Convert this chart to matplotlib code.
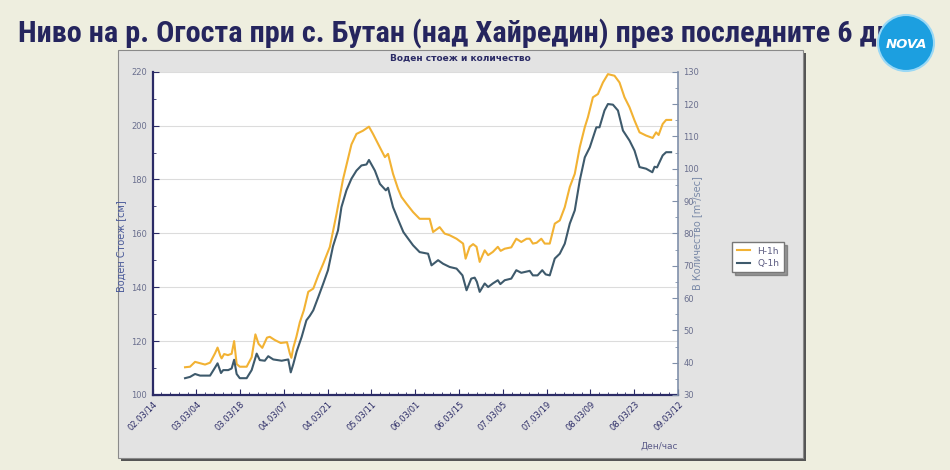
import numpy as np
import matplotlib
matplotlib.use("Agg")
import matplotlib.pyplot as plt
from matplotlib.patches import Rectangle, Ellipse
from matplotlib.ticker import MultipleLocator

# ---------------- data ----------------
title_text = "Ниво на р. Огоста при с. Бутан (над Хайредин) през последните 6 дни"
panel_title = "Воден стоеж и количество"
left_label = "Воден Стоеж [см]"
right_label = "В Количество [m³/sec]"
x_label = "Ден/час"
series_names = ["H-1h", "Q-1h"]

tick_labels = ["02.03/14", "03.03/04", "03.03/18", "04.03/07", "04.03/21",
               "05.03/11", "06.03/01", "06.03/15", "07.03/05", "07.03/19",
               "08.03/09", "08.03/23", "09.03/12"]

# hours since 02.03/14
h_hours = [10.4, 12.0, 13.6, 15.2, 16.8, 18.4, 20.0, 20.8, 21.7, 22.1, 22.9, 24.1,
           25.3, 26.1, 26.9, 27.9, 30.1, 31.7, 32.9, 33.9, 35.1, 36.6, 37.5, 39.1,
           41.0, 43.0, 43.9, 44.4, 45.0, 46.0, 47.1, 48.4, 49.8, 51.4, 53.0, 54.6,
           56.7, 58.8, 60.9, 63.6, 65.2, 67.3, 69.2, 70.5, 72.7, 74.3, 75.3, 76.9,
           78.5, 79.6, 81.2, 83.3, 85.4, 88.6, 89.7, 91.8, 93.4, 95.0, 97.2, 99.3,
           100.1, 101.4, 102.5, 103.6, 104.6, 106.2, 107.3, 108.8, 110.4, 111.3,
           112.6, 114.7, 116.3, 117.9, 119.6, 120.6, 121.6, 122.8, 124.3, 125.4,
           127.0, 128.6, 130.2, 131.8, 133.4, 135.0, 136.6, 138.2, 139.2, 140.8,
           142.4, 144.0, 145.6, 147.7, 149.3, 150.9, 152.5, 154.1, 155.7, 157.8,
           159.9, 161.0, 161.8, 163.1, 164.2, 165.8]
h_level = [110.3, 110.5, 112.3, 111.8, 111.3, 112.0, 115.5, 117.6, 114.5, 113.6, 115.2, 114.8,
           115.3, 120.0, 111.5, 110.5, 110.5, 114.0, 122.5, 119.0, 117.5, 121.3, 121.6, 120.4,
           119.3, 119.6, 115.4, 113.8, 117.5, 121.6, 127.0, 131.5, 138.3, 139.5, 144.4, 148.8,
           155.0, 167.0, 180.0, 193.0, 196.9, 198.1, 199.6, 196.9, 191.9, 188.3, 189.5, 182.1,
           176.5, 173.5, 171.0, 167.9, 165.4, 165.4, 160.5, 162.3, 159.9, 159.3, 158.0, 156.2,
           150.6, 155.0, 156.0, 155.0, 149.4, 153.7, 151.9, 153.1, 155.0, 153.5,
           154.3, 154.8, 158.0, 156.8, 158.0, 158.0, 156.2, 156.5, 158.0, 156.2,
           156.2, 163.6, 164.8, 169.7, 177.2, 182.1, 192.0, 199.4, 203.1, 210.5,
           211.7, 216.0, 219.1, 218.5, 216.0, 210.5, 206.8, 201.9, 197.5, 196.3,
           195.4, 197.5, 196.5, 200.6, 202.1, 202.1]

q_hours = [10.4, 12.0, 13.6, 15.2, 18.4, 20.0, 20.8, 21.9, 22.6, 24.2, 25.3, 26.1,
           26.9, 27.9, 30.1, 31.7, 33.3, 34.3, 35.9, 37.0, 38.6, 41.3, 43.4, 44.2,
           45.0, 46.1, 47.7, 49.2, 50.3, 51.4, 53.0, 54.6, 56.1, 57.7, 59.3, 60.4,
           62.0, 63.6, 65.2, 66.8, 68.4, 69.2, 71.1, 72.7, 74.6, 75.3, 76.9, 78.5,
           80.2, 81.7, 83.3, 85.4, 88.1, 89.2, 91.3, 92.9, 95.0, 97.2, 99.1, 100.4,
           101.9, 103.0, 103.7, 104.6, 106.2, 107.3, 108.8, 110.4, 111.2, 112.6,
           114.7, 116.3, 117.9, 120.6, 121.6, 123.1, 124.6, 125.7, 127.0, 128.6,
           130.2, 131.8, 133.4, 135.0, 136.6, 138.2, 139.8, 141.9, 142.9, 144.5,
           145.6, 147.2, 148.8, 150.4, 152.5, 154.1, 155.7, 157.8, 159.8, 160.5,
           161.3, 163.1, 164.2, 165.8]
q_flow = [35.2, 35.6, 36.5, 36.0, 36.0, 38.5, 39.8, 36.8, 37.7, 37.7, 38.2, 40.9,
          36.5, 35.2, 35.2, 37.7, 42.8, 40.8, 40.6, 42.0, 41.0, 40.6, 41.0, 37.0,
          39.5, 43.5, 48.0, 53.1, 54.5, 56.2, 60.3, 64.5, 68.6, 76.0, 80.9, 88.1,
          93.3, 96.9, 99.4, 101.0, 101.3, 102.7, 99.4, 95.3, 93.3, 94.1, 88.1, 84.3,
          80.4, 78.4, 76.3, 74.2, 73.7, 70.1, 71.7, 70.6, 69.6, 69.1, 67.0, 62.4,
          66.0, 66.3, 65.0, 61.9, 64.5, 63.4, 64.5, 65.5, 64.3, 65.5,
          66.0, 68.6, 67.8, 68.4, 67.0, 67.0, 68.6, 67.3, 67.0, 72.2,
          73.7, 76.8, 83.0, 87.1, 96.4, 103.5, 106.6, 112.8, 112.8, 118.0,
          120.0, 119.8, 118.0, 111.8, 108.7, 105.6, 100.5, 100.0, 98.9, 100.6,
          100.4, 104.1, 105.1, 105.1]

# ---------------- styling ----------------
W, H = 950, 470
bg = "#eeeedf"
panel_col = "#e3e3e3"
navy = "#2b2b66"
tick_col = "#6a6f8e"
orange = "#f2b233"
slate = "#3e5a6c"

fig = plt.figure(figsize=(W / 100, H / 100), dpi=100, facecolor=bg)

def fx(px):
    return px / W

def fy(py):
    return 1 - py / H

# panel with shadow
fig.patches.append(Rectangle((fx(121), fy(461)), fx(803 - 118), (458 - 50) / H,
                             transform=fig.transFigure, facecolor="#555555",
                             edgecolor="none", zorder=-3))
fig.patches.append(Rectangle((fx(118), fy(458)), fx(803 - 118), (458 - 50) / H,
                             transform=fig.transFigure, facecolor=panel_col,
                             edgecolor="#8a8a8a", linewidth=0.8, zorder=-2))

# title (size fitted so the full line ends under the logo)
title = fig.text(fx(18), fy(34), title_text, fontsize=16, fontweight="bold",
                 family=["Roboto Condensed", "Liberation Sans Narrow", "Roboto", "DejaVu Sans"],
                 color="#25255e", ha="left", va="center", zorder=4)
fig.canvas.draw()
tw = title.get_window_extent().width
title.set_fontsize(16 * (908 - 18) / tw)

# logo
fig.patches.append(Ellipse((fx(906), fy(43)), 56 / W, 56 / H, transform=fig.transFigure,
                           facecolor="#1c9fe0", edgecolor="#9ad8f5", linewidth=1.5,
                           zorder=5))
fig.text(fx(906), fy(45), "NOVA", fontsize=9.5, fontweight="bold", color="white",
         ha="center", va="center", zorder=6, fontstyle="italic")

# axes
left, right, top, bottom = 152.5, 678, 71.7, 395
ax = fig.add_axes([fx(left), fy(bottom), fx(right - left), (bottom - top) / H])
ax.set_facecolor("white")
ax2 = ax.twinx()

ax.plot(h_hours, h_level, color=orange, lw=1.5, zorder=3, label=series_names[0])
ax2.plot(q_hours, q_flow, color=slate, lw=1.5, zorder=3, label=series_names[1])

ax.set_xlim(0, 168)
ax.set_ylim(100, 220)
ax2.set_ylim(30, 130)

ax.set_xticks(np.arange(0, 169, 14))
ax.set_xticklabels(tick_labels, rotation=45, ha="right", va="top",
                   rotation_mode="anchor", fontsize=6, color="#4a4a88")
ax.xaxis.set_minor_locator(MultipleLocator(2.8))
ax.set_yticks(np.arange(100, 221, 20))
ax.yaxis.set_minor_locator(MultipleLocator(10))
ax2.set_yticks(np.arange(30, 131, 10))
ax2.yaxis.set_minor_locator(MultipleLocator(5))

ax.grid(axis="y", which="major", color="#dcdcdc", lw=0.8)
ax.set_axisbelow(True)

for s in ["top", "right"]:
    ax.spines[s].set_visible(False)
for s in ["top", "left", "bottom"]:
    ax2.spines[s].set_visible(False)
ax.spines["left"].set_color(navy)
ax.spines["bottom"].set_color(navy)
ax.spines["left"].set_linewidth(1.6)
ax.spines["bottom"].set_linewidth(1.6)
ax2.spines["right"].set_color("#8090aa")
ax2.spines["right"].set_linewidth(1.2)

ax.tick_params(axis="both", which="both", direction="in", colors=navy)
ax.tick_params(axis="x", which="major", length=4, pad=3)
ax.tick_params(axis="x", which="minor", length=2.5)
ax.tick_params(axis="y", which="major", length=4, labelsize=6, labelcolor=tick_col, pad=4)
ax.tick_params(axis="y", which="minor", length=2.5)
ax2.tick_params(axis="y", which="both", direction="in", colors="#8090aa")
ax2.tick_params(axis="y", which="major", length=4, labelsize=6, labelcolor=tick_col, pad=4)
ax2.tick_params(axis="y", which="minor", length=2.5)

ax.set_ylabel(left_label, fontsize=7, color="#4a5a9a")
ax.yaxis.set_label_coords(-0.051, 0.46)
ax2.set_ylabel(right_label, fontsize=7, color="#7a8aa8")
ax2.yaxis.set_label_coords(1.027, 0.5)

fig.text(fx(678), fy(446), x_label, fontsize=6.5, color="#5a5a88", ha="right", va="center")
fig.text(fx(460), fy(58), panel_title, fontsize=6.5, fontweight="bold", color=navy,
         ha="center", va="center")

h1, l1 = ax.get_legend_handles_labels()
h2, l2 = ax2.get_legend_handles_labels()
leg = fig.legend(h1 + h2, l1 + l2, loc="upper left", bbox_to_anchor=(fx(732), fy(242)),
                 fontsize=6.5, frameon=True, fancybox=False, shadow=True,
                 edgecolor="#777777", handlelength=1.5, borderpad=0.5,
                 labelspacing=0.35, handletextpad=0.8, borderaxespad=0)
for t in leg.get_texts():
    t.set_color("#5a5a80")

fig.savefig("out.png", dpi=100, facecolor=bg)
